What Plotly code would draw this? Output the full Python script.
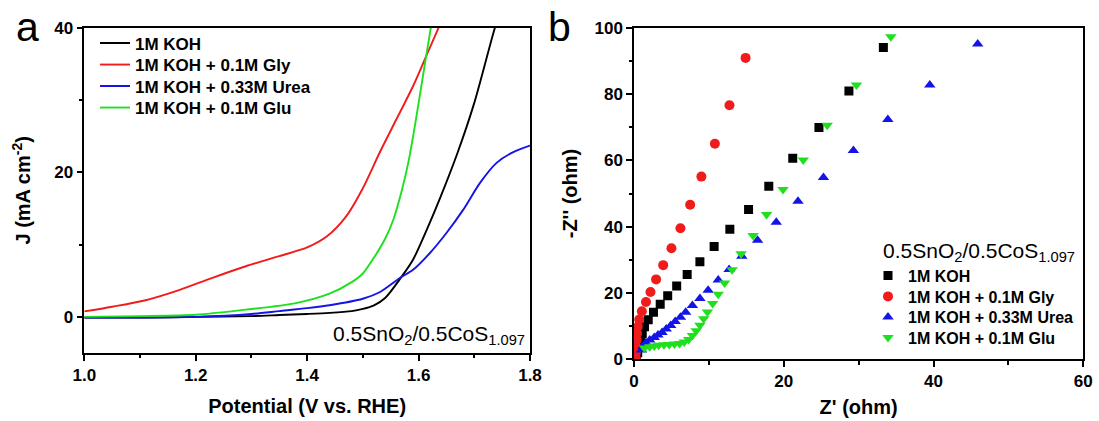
import plotly.graph_objects as go

FONT = "Liberation Sans, Arial, sans-serif"

# ---------------- Panel a: LSV curves ----------------
E_koh = [1.00, 1.10, 1.20, 1.30, 1.35, 1.40, 1.44, 1.48, 1.50, 1.52, 1.54, 1.57, 1.59, 1.615, 1.64, 1.67, 1.70, 1.737, 1.75]
J_koh = [-0.1, -0.1, 0.0, 0.1, 0.25, 0.4, 0.55, 0.8, 1.1, 1.6, 2.6, 5.6, 7.9, 12.1, 16.7, 22.7, 29.6, 40.0, 43.0]

E_gly = [1.00, 1.05, 1.11, 1.17, 1.23, 1.29, 1.35, 1.40, 1.435, 1.47, 1.50, 1.53, 1.56, 1.59, 1.615, 1.636, 1.65]
J_gly = [0.75, 1.4, 2.3, 3.7, 5.4, 7.0, 8.4, 9.6, 11.1, 13.9, 17.8, 22.7, 27.3, 31.9, 36.3, 40.0, 42.5]

E_urea = [1.00, 1.10, 1.20, 1.30, 1.35, 1.40, 1.44, 1.50, 1.53, 1.567, 1.59, 1.62, 1.65, 1.68, 1.71, 1.74, 1.77, 1.80]
J_urea = [-0.1, -0.1, 0.0, 0.4, 0.8, 1.2, 1.6, 2.5, 3.4, 5.4, 6.5, 8.8, 11.6, 14.8, 18.5, 21.3, 22.8, 23.7]

E_glu = [1.00, 1.10, 1.20, 1.29, 1.38, 1.44, 1.48, 1.50, 1.52, 1.54, 1.555, 1.57, 1.582, 1.592, 1.602, 1.612, 1.622, 1.63]
J_glu = [0.0, 0.1, 0.3, 1.0, 1.9, 3.2, 4.8, 6.0, 8.2, 10.8, 13.5, 17.5, 21.5, 25.8, 30.5, 35.3, 40.0, 43.5]

# ---------------- Panel b: Nyquist plots ----------------
Zr_koh = [0.3, 0.5, 0.7, 0.9, 1.1, 1.4, 1.9, 2.6, 3.5, 4.5, 5.7, 7.1, 8.8, 10.7, 12.8, 15.3, 18.0, 21.2, 24.7, 28.7, 33.3]
Zi_koh = [0.6, 2.0, 3.8, 5.8, 7.8, 9.8, 11.9, 14.2, 16.6, 19.2, 22.1, 25.6, 29.4, 34.0, 39.2, 45.2, 52.2, 60.6, 69.9, 80.9, 94.0]

Zr_gly = [0.2, 0.25, 0.3, 0.35, 0.4, 0.5, 0.7, 1.05, 1.6, 2.2, 2.95, 3.9, 5.0, 6.2, 7.5, 9.0, 10.8, 12.75, 14.9]
Zi_gly = [0.6, 2.0, 3.8, 5.8, 7.8, 9.8, 12.0, 14.5, 17.3, 20.3, 24.1, 28.4, 33.5, 39.5, 46.6, 55.1, 65.0, 76.6, 90.9]

Zr_urea = [1.0, 1.2, 1.6, 2.1, 2.7, 3.2, 3.75, 4.3, 4.9, 5.5, 6.2, 6.9, 7.8, 8.8, 9.9, 11.25, 12.7, 14.4, 16.5, 19.0, 21.9, 25.3, 29.3, 33.9, 39.5, 45.9]
Zi_urea = [2.8, 3.9, 5.0, 5.8, 6.6, 7.3, 8.1, 9.1, 10.2, 11.4, 12.7, 14.2, 16.2, 18.3, 20.8, 23.9, 27.1, 31.1, 35.9, 41.3, 47.7, 54.8, 63.0, 72.3, 82.7, 95.1]

Zr_glu = [1.4, 2.1, 2.7, 3.3, 4.0, 4.7, 5.4, 6.1, 6.7, 7.3, 7.8, 8.3, 8.8, 9.3, 9.8, 10.5, 11.25, 12.1, 13.1, 14.3, 15.9, 17.7, 19.9, 22.6, 25.8, 29.7, 34.3]
Zi_glu = [3.4, 3.8, 4.0, 4.2, 4.4, 4.5, 4.6, 4.8, 5.2, 6.0, 7.2, 8.6, 10.3, 12.2, 14.3, 16.8, 19.6, 23.0, 27.0, 31.8, 37.3, 43.7, 51.2, 60.1, 70.6, 82.7, 97.3]

names = ["1M KOH", "1M KOH + 0.1M Gly", "1M KOH + 0.33M Urea", "1M KOH + 0.1M Glu"]
colors = ["#000000", "#f01c1c", "#1414e6", "#1ee01e"]
sample_label = "0.5SnO<sub>2</sub>/0.5CoS<sub>1.097</sub>"

W, H = 1099, 421

fig = go.Figure()

# one legend per row so that row spacing matches the reference
legend_a_ids = ["legend", "legend2", "legend3", "legend4"]
legend_b_ids = ["legend5", "legend6", "legend7", "legend8"]
rows_a = [43.5, 65.0, 86.5, 108.0]
rows_b = [275.5, 296.5, 317.0, 337.5]

lsv = [(E_koh, J_koh), (E_gly, J_gly), (E_urea, J_urea), (E_glu, J_glu)]
for (ex, jy), nm, col, lg in zip(lsv, names, colors, legend_a_ids):
    fig.add_trace(go.Scatter(
        x=ex, y=jy, mode="lines", name=nm,
        line=dict(color=col, width=1.9, shape="spline", smoothing=0.8),
        xaxis="x", yaxis="y", legend=lg))

nyq = [(Zr_koh, Zi_koh, "square", 9), (Zr_gly, Zi_gly, "circle", 10),
       (Zr_urea, Zi_urea, "triangle-up", 10), (Zr_glu, Zi_glu, "triangle-down", 10)]
for (zr, zi, sym, sz), nm, col, lg in zip(nyq, names, colors, legend_b_ids):
    fig.add_trace(go.Scatter(
        x=zr, y=zi, mode="markers", name=nm,
        marker=dict(symbol=sym, size=sz, color=col, line=dict(width=0)),
        xaxis="x2", yaxis="y2", legend=lg))

tickfont = dict(family=FONT, size=17, color="black", weight="bold")
titlefont = dict(family=FONT, size=20, color="black", weight="bold")


def ax(**kw):
    d = dict(showline=True, linecolor="black", linewidth=1.5, mirror=True,
             ticks="outside", ticklen=6, tickwidth=1.5, tickcolor="black",
             showgrid=False, zeroline=False, tickfont=tickfont, automargin=False)
    d.update(kw)
    return d


minor_style = dict(ticks="outside", ticklen=3.5, tickwidth=1.5, tickcolor="black", showgrid=False)

layout = dict(
    width=W, height=H, autosize=False,
    margin=dict(l=0, r=0, t=0, b=0, pad=0),
    paper_bgcolor="white", plot_bgcolor="white",
    font=dict(family=FONT, color="black"),
    xaxis=ax(domain=[84.3 / W, 530 / W], range=[1.0, 1.8], dtick=0.2, tickformat=".1f",
             minor=dict(dtick=0.1, **minor_style), anchor="y",
             title=dict(text="Potential (V vs. RHE)", font=titlefont, standoff=15)),
    yaxis=ax(domain=[1 - 353 / H, 1 - 27.7 / H], range=[-5, 40], dtick=20,
             minor=dict(dtick=10, **minor_style), anchor="x",
             title=dict(text="J (mA cm<sup>-2</sup>)", font=titlefont, standoff=18)),
    xaxis2=ax(domain=[634 / W, 1083.3 / W], range=[0, 60], dtick=20,
              minor=dict(dtick=10, **minor_style), anchor="y2",
              title=dict(text="Z' (ohm)", font=titlefont, standoff=10)),
    yaxis2=ax(domain=[1 - 359.3 / H, 1 - 27.7 / H], range=[0, 100], dtick=20,
              minor=dict(dtick=10, **minor_style), anchor="x2",
              title=dict(text="-Z'' (ohm)", font=titlefont, standoff=11)),
    showlegend=True,
)

for lg, yc in zip(legend_a_ids, rows_a):
    layout[lg] = dict(x=95 / W, y=1 - yc / H, xanchor="left", yanchor="middle",
                      bgcolor="rgba(0,0,0,0)", borderwidth=0,
                      font=dict(family=FONT, size=17, color="black", weight="bold"))
for lg, yc in zip(legend_b_ids, rows_b):
    layout[lg] = dict(x=868 / W, y=1 - yc / H, xanchor="left", yanchor="middle",
                      bgcolor="rgba(0,0,0,0)", borderwidth=0,
                      font=dict(family=FONT, size=16, color="black", weight="bold"))

fig.update_layout(**layout)

annotations = [
    dict(text=sample_label, x=527 / W, y=1 - 335 / H, xref="paper", yref="paper",
         xanchor="right", yanchor="middle", showarrow=False,
         font=dict(family=FONT, size=21, color="black")),
    dict(text=sample_label, x=881 / W, y=1 - 252 / H, xref="paper", yref="paper",
         xanchor="left", yanchor="middle", showarrow=False,
         font=dict(family=FONT, size=21, color="black")),
    dict(text="a", x=27 / W, y=1 - 27 / H, xref="paper", yref="paper",
         xanchor="center", yanchor="middle", showarrow=False,
         font=dict(family=FONT, size=41, color="black")),
    dict(text="b", x=559 / W, y=1 - 27 / H, xref="paper", yref="paper",
         xanchor="center", yanchor="middle", showarrow=False,
         font=dict(family=FONT, size=41, color="black")),
]
fig.update_layout(annotations=annotations)

# remove the default page margin so the figure sits at the window's top-left corner
fig.write_html("out.html",
               config={"displayModeBar": False},
               post_script="document.body.style.margin='0px';document.body.style.padding='0px';")
